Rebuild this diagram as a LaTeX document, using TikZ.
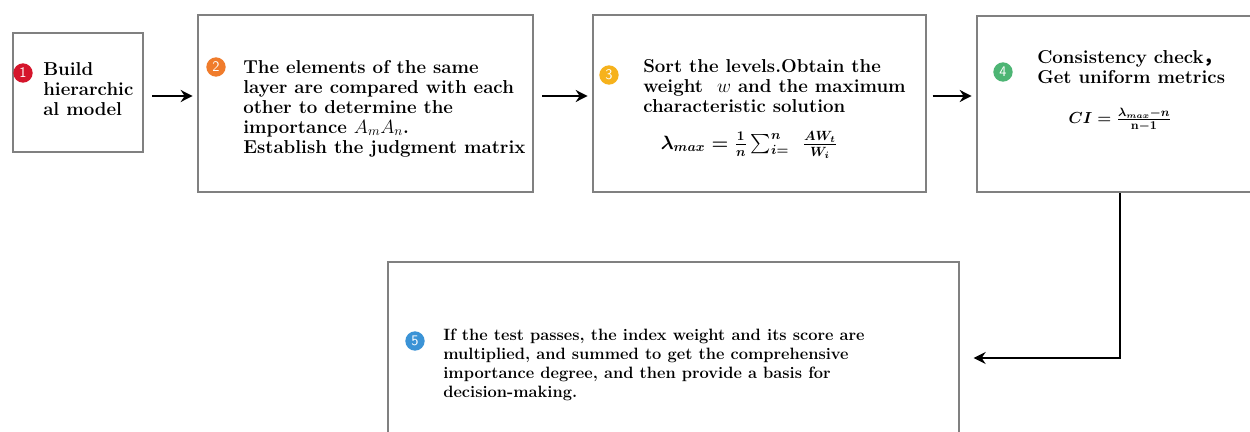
\documentclass[tikz,border=0pt]{standalone}
\usepackage{amsmath}
\usepackage{fontspec}
\newfontfamily\cjk{Noto Sans CJK SC}
\usetikzlibrary{arrows.meta}
\definecolor{cA}{HTML}{D5152B}
\definecolor{cB}{HTML}{F07C2C}
\definecolor{cC}{HTML}{F6B21C}
\definecolor{cD}{HTML}{4DB574}
\definecolor{cE}{HTML}{3B93D6}
\definecolor{boxgray}{HTML}{808080}
\begin{document}
\begin{tikzpicture}[x=0.75pt,y=-0.75pt,
  box/.style={draw=boxgray,line width=2pt,fill=white,inner sep=0pt},
  txt/.style={inner sep=0pt,align=left,anchor=base west,font=\bfseries\fontsize{14}{15}\selectfont},
  num/.style={circle,fill=#1,text=white,inner sep=0pt,minimum size=14.5pt,font=\sffamily\fontsize{11}{11}\selectfont},
  eq/.style={inner sep=0pt,font=\mathversion{bold}\fontsize{14}{16}\selectfont},
  arr/.style={line width=1.5pt,-{Stealth[length=9pt,width=9pt,inset=3pt]}}]
\clip (0,0) rectangle (1250,432);
\fill[white] (0,0) rectangle (1250,432);
% boxes
\node[box,minimum width=97.5pt,minimum height=89.25pt] (b1) at (78,92.5) {};
\node[box,minimum width=251.25pt,minimum height=132.75pt] (b2) at (365.5,103.5) {};
\node[box,minimum width=249.75pt,minimum height=132.75pt] (b3) at (759.5,103.5) {};
\node[box,minimum width=223.5pt,minimum height=132pt] (b4) at (1126,104) {};
\node[box,minimum width=428.25pt,minimum height=141pt] (b5) at (673.5,356) {};
% numbers
\node[num=cA] (n1) at (23,73) {1};
\node[num=cB] (n2) at (216,67) {2};
\node[num=cC] (n3) at (609,75) {3};
\node[num=cD] (n4) at (1003,72) {4};
\node[num=cE] (n5) at (415,341) {5};
% texts (anchored at the baseline of the last line)
\node[txt] (t1) at (43,115) {Build\\hierarchic\\al model};
\node[txt] (t2) at (243,153) {The elements of the same\\layer are compared with each\\other to determine the\\importance $A_mA_n$.\\Establish the judgment matrix};
\node[txt] (t3) at (643,112) {Sort the levels.Obtain the\\weight \ $w$ and the maximum\\characteristic solution};
\node[eq] (f3) at (749,145) {$\lambda_{max}=\frac{1}{n}\sum_{i=}^{n}\,\ \frac{AW_t}{W_i}$};
\node[txt] (t4) at (1037,83) {Consistency check{\cjk ，}\\Get uniform metrics};
\node[eq,font=\mathversion{bold}\fontsize{13}{15}\selectfont] (f4) at (1120,120) {$CI=\frac{\lambda_{max}-n}{\mathbf{n-1}}$};
\node[txt,font=\bfseries\fontsize{12.3}{14.25}\selectfont] (t5) at (443,397) {If the test passes, the index weight and its score are\\multiplied, and summed to get the comprehensive\\importance degree, and then provide a basis for\\decision-making.};
% arrows
\coordinate (ay) at (0,96);
\coordinate (turn) at (1120,358);
\draw[arr,shorten <=6pt,shorten >=3pt] (b1.east |- ay) -- (b2.west |- ay);
\draw[arr,shorten <=6pt,shorten >=3pt] (b2.east |- ay) -- (b3.west |- ay);
\draw[arr,shorten <=4pt,shorten >=3pt] (b3.east |- ay) -- (b4.west |- ay);
\draw[arr,shorten >=10pt] (b4.south -| turn) |- (b5.east |- turn);
\end{tikzpicture}
\end{document}
